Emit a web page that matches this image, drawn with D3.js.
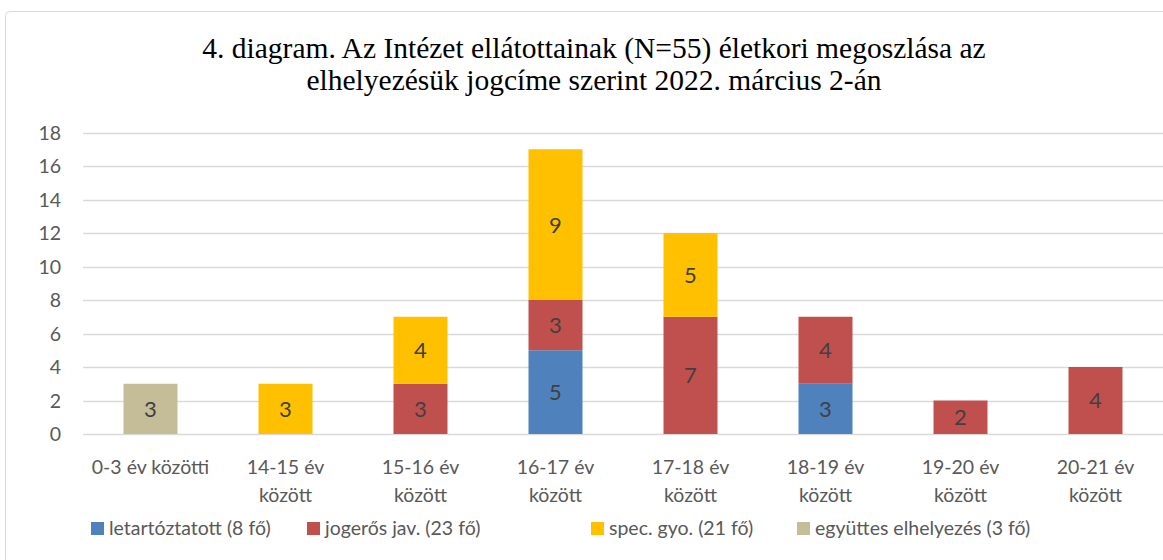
<!DOCTYPE html>
<html>
<head>
<meta charset="utf-8">
<script src="https://cdn.jsdelivr.net/npm/d3@7"></script>
<style>
  body { margin: 0; background: #fff; }
  svg text { font-family: Lato, "Open Sans", sans-serif; }
</style>
</head>
<body>
<div id="chart"></div>
<script>
// chart data
const categories = ['0-3 év közötti', '14-15 év között', '15-16 év között', '16-17 év között',
  '17-18 év között', '18-19 év között', '19-20 év között', '20-21 év között'];
const seriesNames = ['letartóztatott (8 fő)', 'jogerős jav. (23 fő)', 'spec. gyo. (21 fő)', 'együttes elhelyezés (3 fő)'];
const letartoztatott = [0, 0, 0, 5, 0, 3, 0, 0];
const jogeros = [0, 0, 3, 3, 7, 4, 2, 4];
const specGyo = [0, 3, 4, 9, 5, 0, 0, 0];
const egyuttes = [3, 0, 0, 0, 0, 0, 0, 0];
const yTicks = [0, 2, 4, 6, 8, 10, 12, 14, 16, 18];
const titleLines = ['4. diagram. Az Intézet ellátottainak (N=55) életkori megoszlása az',
  'elhelyezésük jogcíme szerint 2022. március 2-án'];

const colors = ['#4F81BD', '#C0504D', '#FFC000', '#C4BD97'];
const width = 1163, height = 560;
const margin = { left: 83, right: 0, top: 132.5, bottom: 126 };

const svg = d3.select('#chart').append('svg')
  .attr('width', width).attr('height', height);

// chart frame
svg.append('rect')
  .attr('x', 5.5).attr('y', 11.5)
  .attr('width', 1300).attr('height', 700)
  .attr('rx', 4)
  .attr('fill', 'none').attr('stroke', '#d9d9d9');

const title = svg.append('text')
  .attr('text-anchor', 'middle')
  .attr('fill', '#000')
  .style('font-family', '"Liberation Serif", "Times New Roman", serif')
  .style('font-size', '29.5px');
titleLines.forEach((t, i) => {
  title.append('tspan').attr('x', 594).attr('y', 58 + i * 32).text(t);
});

const x = d3.scaleBand().domain(categories)
  .range([margin.left, width - margin.right])
  .paddingInner(0.6).paddingOuter(0.3);
const y = d3.scaleLinear().domain([0, 18]).range([height - margin.bottom, margin.top]);

// gridlines
svg.append('g').selectAll('line').data(yTicks).enter().append('line')
  .attr('x1', margin.left).attr('x2', width)
  .attr('y1', d => Math.round(y(d)) + 0.5).attr('y2', d => Math.round(y(d)) + 0.5)
  .attr('stroke', '#d9d9d9').attr('stroke-width', 1.3);

// y axis
const yAxis = svg.append('g')
  .attr('transform', `translate(${margin.left - 22},0)`)
  .call(d3.axisLeft(y).tickValues(yTicks).tickSize(0).tickPadding(0));
yAxis.select('.domain').remove();
yAxis.selectAll('text').attr('fill', '#595959').style('font-size', '19.5px').attr('dy', '0.35em');

// stacked bars
const table = categories.map((c, i) => ({
  cat: c, s0: letartoztatott[i], s1: jogeros[i], s2: specGyo[i], s3: egyuttes[i]
}));
const stack = d3.stack().keys(['s0', 's1', 's2', 's3'])(table);

stack.forEach((layer, k) => {
  const g = svg.append('g');
  layer.forEach(d => {
    const v = d[1] - d[0];
    if (!v) return;
    g.append('rect')
      .attr('x', x(d.data.cat)).attr('width', x.bandwidth())
      .attr('y', y(d[1])).attr('height', y(d[0]) - y(d[1]))
      .attr('fill', colors[k]);
    g.append('text')
      .attr('x', x(d.data.cat) + x.bandwidth() / 2)
      .attr('y', (y(d[0]) + y(d[1])) / 2)
      .attr('dy', '0.36em')
      .attr('text-anchor', 'middle')
      .attr('fill', '#404040')
      .style('font-size', '22px')
      .text(v);
  });
});

// x axis labels with wrapping
const xLab = svg.append('g');
categories.forEach(c => {
  const t = xLab.append('text')
    .attr('text-anchor', 'middle')
    .attr('fill', '#595959')
    .style('font-size', '19.5px');
  const words = c.split(' ');
  let lines = [c];
  t.text(c);
  if (t.node().getComputedTextLength() > 125) {
    lines = [words.slice(0, -1).join(' '), words[words.length - 1]];
  }
  t.text(null);
  lines.forEach((l, i) => {
    t.append('tspan').attr('x', x(c) + x.bandwidth() / 2).attr('y', 474 + i * 28).text(l);
  });
});

// legend
const legendX = [91, 307, 591, 797];
const legend = svg.append('g');
seriesNames.forEach((n, i) => {
  legend.append('rect')
    .attr('x', legendX[i]).attr('y', 522)
    .attr('width', 13).attr('height', 13)
    .attr('fill', colors[i]);
  legend.append('text')
    .attr('x', legendX[i] + 18).attr('y', 535)
    .attr('fill', '#595959')
    .style('font-size', '19.5px')
    .text(n);
});
</script>
</body>
</html>
